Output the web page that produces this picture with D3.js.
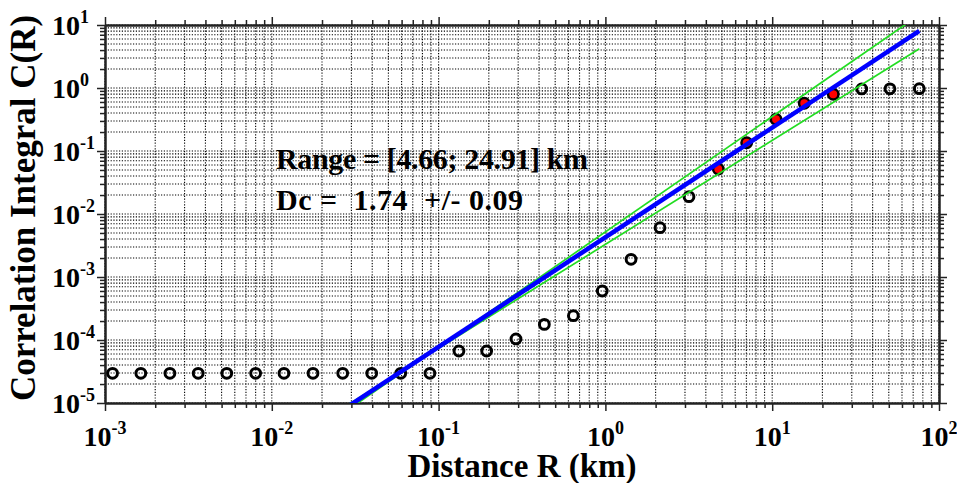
<!DOCTYPE html>
<html>
<head>
<meta charset="utf-8">
<script src="https://cdn.jsdelivr.net/npm/d3@7"></script>
<style>
  body { margin: 0; background: #fff; }
  text { font-family: "Liberation Serif", "Times New Roman", serif; font-weight: bold; fill: #000; }
</style>
</head>
<body>
<svg width="957" height="483"></svg>
<script>
  // distances R (km) and correlation integral C(R)
  var distR = [0.00111, 0.00164, 0.00245, 0.00362, 0.00537, 0.00800, 0.01183, 0.01766, 0.02661, 0.03972,
               0.05929, 0.08872, 0.1324, 0.1941, 0.2910, 0.4305, 0.6427, 0.9572, 1.425, 2.125,
               3.170, 4.75, 7.03, 10.54, 15.57, 23.23, 34.41, 50.8, 76.2];
  var corrC = [2.96e-5, 2.96e-5, 2.96e-5, 2.96e-5, 2.96e-5, 2.96e-5, 2.96e-5, 2.96e-5, 2.96e-5, 2.96e-5,
               2.96e-5, 2.96e-5, 6.69e-5, 6.69e-5, 1.04e-4, 1.77e-4, 2.43e-4, 6.0e-4, 1.91e-3, 6.06e-3,
               0.01883, 0.0518, 0.1355, 0.3186, 0.5715, 0.794, 0.965, 0.97, 0.975];
  var fitIdx = [21, 22, 23, 24, 25]; // points inside the fitting range (red)

  // fit C = A * R^D  and the +/- error lines
  var fitD = 1.74, fitErr = 0.09;
  var fitA = [0.00427, 0.0052, 0.0033]; // fit, upper, lower

  var xTickPowers = [-3, -2, -1, 0, 1, 2];
  var yTickPowers = [-5, -4, -3, -2, -1, 0, 1];

  var svg = d3.select("svg"),
      margin = {top: 25, right: 18, bottom: 80, left: 105},
      width = 957 - margin.left - margin.right,
      height = 483 - margin.top - margin.bottom,
      g = svg.append("g").attr("transform", "translate(" + margin.left + "," + margin.top + ")");

  var x = d3.scaleLog().domain([1e-3, 1e2]).range([0, width]);
  var y = d3.scaleLog().domain([1e-5, 1e1]).range([height, 0]);

  var xMajor = xTickPowers.map(function(p) { return Math.pow(10, p); });
  var yMajor = yTickPowers.map(function(p) { return Math.pow(10, p); });
  function minors(powers) {
    var out = [];
    powers.slice(0, -1).forEach(function(p) {
      for (var k = 2; k <= 9; k++) out.push(k * Math.pow(10, p));
    });
    return out;
  }
  var xMinor = minors(xTickPowers), yMinor = minors(yTickPowers);

  // dotted grid
  var grid = g.append("g").attr("stroke", "#000").attr("stroke-width", 1.1).attr("stroke-dasharray", "1.2,1.6");
  grid.selectAll(".vx").data(xMajor.concat(xMinor)).enter().append("line")
      .attr("x1", function(d) { return x(d); }).attr("x2", function(d) { return x(d); })
      .attr("y1", 0).attr("y2", height);
  grid.selectAll(".hy").data(yMajor.concat(yMinor)).enter().append("line")
      .attr("y1", function(d) { return y(d); }).attr("y2", function(d) { return y(d); })
      .attr("x1", 0).attr("x2", width);

  // frame with outward ticks on all sides
  function styleAxis(sel) {
    sel.selectAll("path").attr("stroke", "#222").attr("stroke-width", 2);
    sel.selectAll("line").attr("stroke", "#222").attr("stroke-width", 1.5);
  }
  [[d3.axisBottom, "translate(0," + height + ")", x],
   [d3.axisTop, null, x],
   [d3.axisLeft, null, y],
   [d3.axisRight, "translate(" + width + ",0)", y]].forEach(function(a) {
    var sc = a[2], maj = sc === x ? xMajor : yMajor, mn = sc === x ? xMinor : yMinor;
    var gm = g.append("g").attr("transform", a[1]).call(a[0](sc).tickValues(mn).tickSize(5).tickSizeOuter(0).tickFormat(""));
    var gM = g.append("g").attr("transform", a[1]).call(a[0](sc).tickValues(maj).tickSize(8).tickSizeOuter(0).tickFormat(""));
    styleAxis(gm); styleAxis(gM);
  });

  // tick labels 10^n
  var xl = g.append("g").selectAll("text").data(xTickPowers).enter().append("text")
      .attr("x", function(d) { return x(Math.pow(10, d)); })
      .attr("y", height + 43)
      .attr("text-anchor", "middle")
      .style("font-size", "28px");
  xl.append("tspan").text("10");
  xl.append("tspan").attr("dy", -12).style("font-size", "18px").text(function(d) { return d; });

  var yl = g.append("g").selectAll("text").data(yTickPowers).enter().append("text")
      .attr("x", -53)
      .attr("y", function(d) { return y(Math.pow(10, d)) + 10; })
      .style("font-size", "28px");
  yl.append("tspan").text("10");
  yl.append("tspan").attr("dy", -12).style("font-size", "18px").text(function(d) { return d; });

  // axis titles
  svg.append("text")
      .attr("x", 522).attr("y", 477)
      .attr("text-anchor", "middle")
      .style("font-size", "33px")
      .text("Distance R (km)");
  svg.append("text")
      .attr("transform", "translate(35,208) rotate(-90)")
      .attr("text-anchor", "middle")
      .style("font-size", "35px")
      .text("Correlation Integral C(R)");

  // data points
  var pts = distR.map(function(r, i) { return {r: r, c: corrC[i], fit: fitIdx.indexOf(i) >= 0}; });
  g.append("g").selectAll("circle").data(pts).enter().append("circle")
      .attr("cx", function(d) { return x(d.r); })
      .attr("cy", function(d) { return y(d.c); })
      .attr("r", function(d) { return d.fit ? 5.2 : 4.9; })
      .attr("fill", function(d) { return d.fit ? "#ff0000" : "none"; })
      .attr("stroke", "#000")
      .attr("stroke-width", function(d) { return d.fit ? 2.5 : 3; });

  // fit lines, clipped to the plot area
  svg.append("defs").append("clipPath").attr("id", "clip")
    .append("rect").attr("width", width).attr("height", height);
  var rEnds = [distR[0], distR[distR.length - 1]];
  var slopes = [fitD, fitD + fitErr, fitD - fitErr];
  var lineGen = d3.line().x(function(d) { return x(d[0]); }).y(function(d) { return y(d[1]); });
  var lines = g.append("g").attr("clip-path", "url(#clip)");
  [1, 2, 0].forEach(function(k) {
    lines.append("path")
        .attr("d", lineGen(rEnds.map(function(r) { return [r, fitA[k] * Math.pow(r, slopes[k])]; })))
        .attr("fill", "none")
        .attr("stroke", k === 0 ? "#0000ff" : "#22dd22")
        .attr("stroke-width", k === 0 ? 4.5 : 1.7);
  });

  // annotation
  svg.append("text")
      .attr("x", 276).attr("y", 169)
      .style("font-size", "30px")
      .style("white-space", "pre")
      .attr("textLength", 312)
      .text("Range = [4.66; 24.91] km");
  svg.append("text")
      .attr("x", 276).attr("y", 210)
      .style("font-size", "30px")
      .style("white-space", "pre")
      .attr("textLength", 247)
      .text("Dc =  1.74  +/- 0.09");
</script>
</body>
</html>
